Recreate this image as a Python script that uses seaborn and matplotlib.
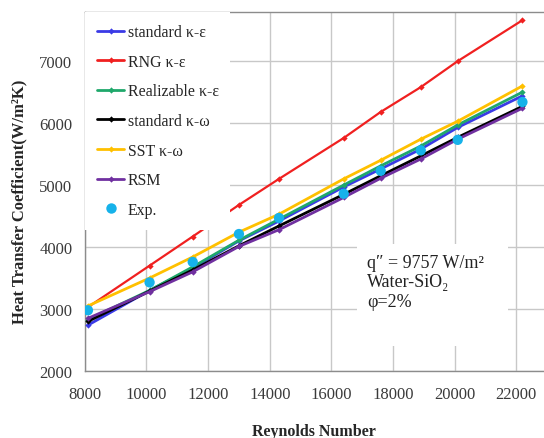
import numpy as np
import pandas as pd
import matplotlib
matplotlib.use("Agg")
import matplotlib.pyplot as plt
import seaborn as sns
from matplotlib.lines import Line2D
from matplotlib.patches import Rectangle

reynolds = [8100, 10100, 11500, 13000, 14300, 16400, 17600, 18900, 20100, 22200]
std_ke = [2740, 3300, 3660, 4100, 4420, 4970, 5260, 5580, 5930, 6440]
rng_ke = [3030, 3700, 4170, 4680, 5100, 5760, 6180, 6580, 7000, 7660]
real_ke = [2830, 3300, 3680, 4110, 4450, 5000, 5310, 5630, 5970, 6500]
std_kw = [2800, 3290, 3630, 4020, 4340, 4850, 5150, 5470, 5770, 6270]
sst_kw = [3050, 3500, 3840, 4240, 4530, 5100, 5400, 5740, 6030, 6600]
rsm = [2850, 3280, 3600, 4010, 4280, 4800, 5110, 5420, 5740, 6240]
exp_val = [2980, 3430, 3760, 4210, 4470, 4860, 5230, 5560, 5730, 6340]

labels = ["standard κ-ε", "RNG κ-ε", "Realizable κ-ε", "standard κ-ω", "SST κ-ω", "RSM"]
series = [std_ke, rng_ke, real_ke, std_kw, sst_kw, rsm]
colors = ["#3a3ae6", "#f02020", "#1fa86b", "#000000", "#ffc000", "#7030a0"]
exp_color = "#16b2ea"

sns.set_style("white")
plt.rcParams['font.family'] = ['Liberation Serif', 'DejaVu Serif']

fig = plt.figure(figsize=(5.44, 4.39), dpi=100)
ax = fig.add_axes([0.156, 0.1526, 0.844, 0.8174])

df = pd.DataFrame({
    "Re": np.tile(reynolds, len(labels)),
    "h": np.concatenate(series),
    "model": np.repeat(labels, len(reynolds)),
})
pal = dict(zip(labels, colors))
sns.lineplot(data=df, x="Re", y="h", hue="model", palette=pal, hue_order=labels,
             marker="D", markersize=3.2, markeredgewidth=0, linewidth=2.0,
             ax=ax, legend=False, zorder=3)
for ln, lab in zip(ax.lines, labels):
    if lab == "RNG κ-ε":
        ln.set_linewidth(1.6)

exp_df = pd.DataFrame({"Re": reynolds, "h": exp_val})
sns.scatterplot(data=exp_df, x="Re", y="h", color=exp_color, s=55, edgecolor="none",
                ax=ax, zorder=4, legend=False)

ax.set_xlim(8000, 22900)
ax.set_ylim(2000, 7790)
ax.set_xticks(range(8000, 22001, 2000))
ax.set_yticks(range(2000, 7001, 1000))
ax.grid(True, color="#c8c8c8", linewidth=1.0)
ax.set_axisbelow(True)
for s in ["left", "bottom", "top"]:
    ax.spines[s].set_color("#8c8c8c")
    ax.spines[s].set_linewidth(1.0)
ax.spines["right"].set_visible(False)
ax.tick_params(axis="both", direction="inout", length=8, width=1, color="#8c8c8c",
               labelsize=12, labelcolor="#3a3a3a")
ax.tick_params(axis="x", pad=7)
ax.tick_params(axis="y", pad=5)

ax.set_xlabel("Reynolds Number", fontsize=11.5, fontweight="bold", labelpad=15)
ax.set_ylabel("Heat Transfer Coefficient(W/m²K)", fontsize=12, fontweight="bold")
ax.yaxis.set_label_coords(-0.126, 0.475)

handles = [Line2D([0], [0], color=c, lw=2, marker="D", markersize=3.2, markeredgewidth=0)
           for c in colors]
handles.append(Line2D([0], [0], color=exp_color, lw=0, marker="o", markersize=7.5,
                      markeredgewidth=0))
leg = ax.legend(handles, labels + ["Exp."], loc="upper left", bbox_to_anchor=(0.0, 1.0),
                frameon=True, facecolor="white", edgecolor="none", framealpha=1,
                fancybox=False, fontsize=11.4, labelspacing=0.86, handlelength=1.75,
                handletextpad=0.2, borderpad=0.75, borderaxespad=0.0)

ax.add_patch(Rectangle((0.593, 0.070), 0.329, 0.284, transform=ax.transAxes,
                       facecolor="white", edgecolor="none", zorder=5))
ax.text(0.614, 0.327, "q″ = 9757 W/m²\nWater-SiO₂\nφ=2%", transform=ax.transAxes,
        fontsize=13, color="#222222", va="top", ha="left", linespacing=1.2, zorder=6)

fig.savefig("out.png", dpi=100)
